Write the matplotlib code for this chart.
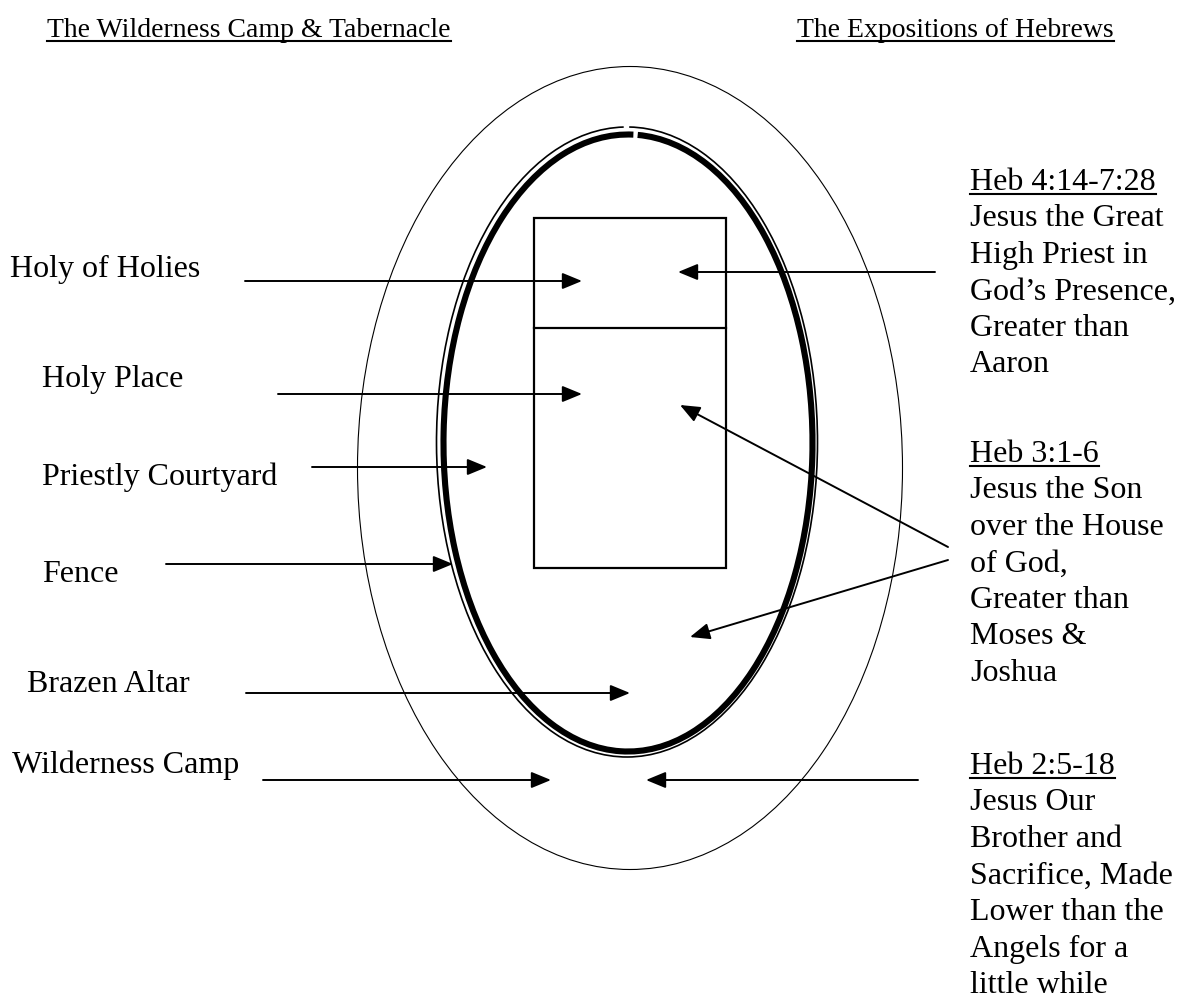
import matplotlib.pyplot as plt
from matplotlib.patches import Ellipse, Arc, Rectangle

plt.rcParams['font.family'] = ['Liberation Serif', 'DejaVu Serif']

titles = ['The Wilderness Camp & Tabernacle', 'The Expositions of Hebrews']

left_labels = ['Holy of Holies', 'Holy Place', 'Priestly Courtyard',
               'Fence', 'Brazen Altar', 'Wilderness Camp']

heb_heads = ['Heb 4:14-7:28', 'Heb 3:1-6', 'Heb 2:5-18']
heb_lines = [
    ['Jesus the Great', 'High Priest in', 'God\u2019s Presence,',
     'Greater than', 'Aaron'],
    ['Jesus the Son', 'over the House', 'of God,', 'Greater than',
     'Moses &', 'Joshua'],
    ['Jesus Our', 'Brother and', 'Sacrifice, Made', 'Lower than the',
     'Angels for a', 'little while'],
]

# layout (pixel space)
title_pos = [(47, 37), (797, 37)]
left_pos = [(10, 277), (42, 387), (42, 485), (42, 582), (27, 692), (12, 773)]
left_arrows = [((245, 281), (582, 281)), ((278, 394), (582, 394)),
               ((312, 467), (487, 467)), ((166, 564), (453, 564)),
               ((246, 693), (630, 693)), ((263, 780), (551, 780))]
right_arrows = [((935, 272), (678, 272)), ((948, 547), (680, 405)),
                ((948, 560), (690, 637)), ((918, 780), (646, 780))]
heb_pos = [(970, 190), (970, 462), (970, 774)]
line_step = 36.5

fig = plt.figure(figsize=(11.9, 10), dpi=100)
ax = fig.add_axes([0, 0, 1, 1])
ax.set_xlim(0, 1190)
ax.set_ylim(1000, 0)
ax.axis('off')

# wilderness camp
ax.add_patch(Ellipse((630, 468), 545, 803, fill=False, lw=0.8, ec='black'))

# fence: thin outer line, thick inner line, tiny notch at top
ax.add_patch(Arc((627, 442), 381, 630, theta1=270.4, theta2=269.4 + 360,
                 lw=1.2, color='black'))
ax.add_patch(Arc((628, 443), 369, 617, theta1=271.8, theta2=271.0 + 360,
                 lw=4.4, color='black'))

# tabernacle
ax.add_patch(Rectangle((534, 218), 192, 350, fill=False, lw=1.6, ec='black'))
ax.plot([534, 726], [328, 328], color='black', lw=1.6)


def text_u(x, y, s, fs=23, underline=False):
    t = ax.text(x, y, s, fontsize=fs, ha='left', va='baseline', color='black')
    if underline:
        fig.canvas.draw()
        bb = t.get_window_extent().transformed(ax.transData.inverted())
        ax.plot([bb.x0, bb.x1], [y + 4, y + 4], color='black', lw=1.5)
    return t


for s, (x, y) in zip(titles, title_pos):
    text_u(x, y, s, fs=20, underline=True)

for s, (x, y) in zip(left_labels, left_pos):
    text_u(x, y, s)

for head, lines, (x, y) in zip(heb_heads, heb_lines, heb_pos):
    text_u(x, y, head, underline=True)
    for i, s in enumerate(lines):
        text_u(x, y + (i + 1) * line_step, s)

arrow_style = dict(arrowstyle='-|>,head_length=0.8,head_width=0.33',
                   mutation_scale=15, lw=1.4, color='black',
                   shrinkA=0, shrinkB=0)
for start, end in left_arrows + right_arrows:
    ax.annotate('', xy=end, xytext=start, arrowprops=arrow_style)

fig.savefig('out.png', dpi=100)
